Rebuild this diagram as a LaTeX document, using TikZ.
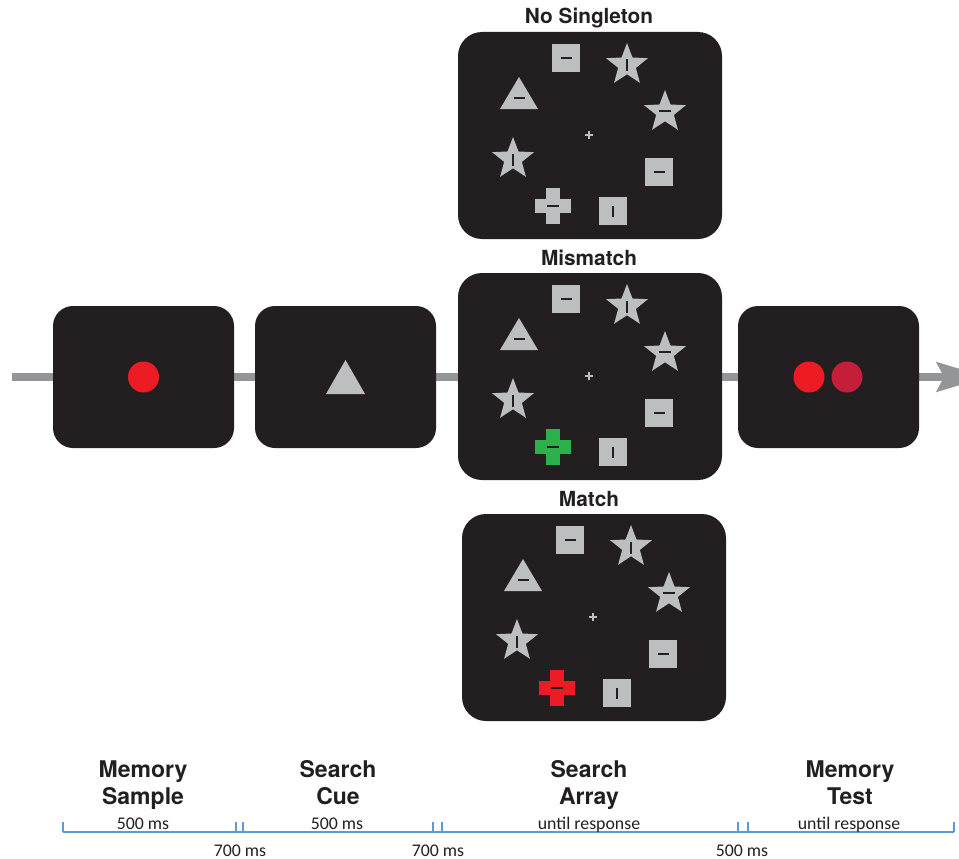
\documentclass[tikz,border=0pt]{standalone}
\usepackage{fontspec}
\setmainfont{TeX Gyre Heros}
\newfontfamily\durfont{Carlito}
\usetikzlibrary{arrows.meta}
\definecolor{boxc}{RGB}{35,31,32}
\definecolor{shp}{RGB}{188,190,192}
\definecolor{arrc}{RGB}{147,149,152}
\definecolor{redc}{RGB}{237,28,36}
\definecolor{crim}{RGB}{196,30,58}
\definecolor{grn}{RGB}{43,178,76}
\definecolor{tlc}{RGB}{91,155,213}
\definecolor{txtc}{RGB}{35,31,32}
\tikzset{
  box/.style={fill=boxc, rounded corners=20pt, inner sep=0pt, minimum width=181pt, minimum height=142pt},
  abox/.style={fill=boxc, rounded corners=24pt, inner sep=0pt, minimum width=264pt, minimum height=207pt},
  titletext/.style={font=\fontsize{20.8}{24}\selectfont\bfseries, text=txtc, anchor=base, inner sep=0pt},
  labtext/.style={font=\fontsize{23}{27}\selectfont\bfseries, text=txtc, anchor=base, inner sep=0pt},
  durtext/.style={font=\durfont\fontsize{17.8}{20}\selectfont, text=txtc, anchor=base, inner sep=0pt},
  dashmark/.style={draw=boxc, line width=2.8pt},
  tlline/.style={draw=tlc, line width=1.1pt},
  pics/starshape/.style={code={
    \fill[shp] (-90:22) -- (-54:9.3) -- (-18:22) -- (18:9.3) -- (54:22) -- (90:9.3)
      -- (126:22) -- (162:9.3) -- (198:22) -- (234:9.3) -- cycle;}},
  pics/starv/.style={code={\pic {starshape}; \draw[dashmark] (0,-5.5) -- (0,6.5);}},
  pics/starh/.style={code={\pic {starshape}; \draw[dashmark] (-6,-1) -- (6,-1);}},
  pics/sqh/.style={code={\fill[shp] (-14,-14) rectangle (14,14); \draw[dashmark] (-5.5,0) -- (5.5,0);}},
  pics/sqv/.style={code={\fill[shp] (-14,-14) rectangle (14,14); \draw[dashmark] (0,-5.5) -- (0,5.5);}},
  pics/trih/.style={code={\fill[shp] (0,-16) -- (19,16) -- (-19,16) -- cycle; \draw[dashmark] (-5.5,5) -- (5.5,5);}},
  pics/crossh/.style={code={\fill[#1] (-18,-7) rectangle (18,7); \fill[#1] (-7,-18) rectangle (7,18);
    \draw[dashmark] (-6,0) -- (6,0);}},
  pics/fixc/.style={code={\draw[shp, line width=2pt] (-4,0) -- (4,0) (0,-4) -- (0,4);}},
}
\newcommand\arrayitems[1]{%
  \pic at (108,26) {sqh};
  \pic at (169,33) {starv};
  \pic at (61,61) {trih};
  \pic at (207,80) {starh};
  \pic at (131,103) {fixc};
  \pic at (55,127) {starv};
  \pic at (201,140) {sqh};
  \pic at (95,174) {crossh=#1};
  \pic at (155,179) {sqv};
}
\begin{document}
\begin{tikzpicture}[x=1pt,y=-1pt]
\useasboundingbox (0,0) rectangle (959,859);
% main arrow
\coordinate (as) at (12,377);
\coordinate (ae) at (987,377);
\draw[arrc, line width=8pt, -{Stealth[length=50pt,width=29pt,inset=7pt]}] (as) -- (ae);
% boxes
\node[box] (ms) at (143.5,377) {};
\node[box] (sc) at (345.5,377) {};
\node[box] (mt) at (828.5,377) {};
\node[abox] (ns) at (590,135.5) {};
\node[abox] (mm) at (590,376.5) {};
\node[abox] (ma) at (594,617.5) {};
% stimuli
\fill[redc] (ms.center) circle (15.5);
\fill[shp] (345.5,360) -- (365,394) -- (326,394) -- cycle;
\fill[redc] (809,377) circle (15.5);
\fill[crim] (847,377) circle (15.5);
\begin{scope}[shift={(458,32)}]\arrayitems{shp}\end{scope}
\begin{scope}[shift={(458,273)}]\arrayitems{grn}\end{scope}
\begin{scope}[shift={(462,514)}]\arrayitems{redc}\end{scope}
% titles
\node[titletext] (tns) at (589,24) {No Singleton};
\node[titletext] (tmm) at (589,265.5) {Mismatch};
\node[titletext] (tma) at (589,506.5) {Match};
% phase labels
\node[labtext] (l1a) at (143,777) {Memory};
\node[labtext] (l1b) at (143,804.5) {Sample};
\node[labtext] (l2a) at (338,777) {Search};
\node[labtext] (l2b) at (338,804.5) {Cue};
\node[labtext] (l3a) at (589,777) {Search};
\node[labtext] (l3b) at (589,804.5) {Array};
\node[labtext] (l4a) at (850,777) {Memory};
\node[labtext] (l4b) at (850,804.5) {Test};
% timeline
\coordinate (t0) at (63,832);
\coordinate (t1) at (236,832);
\coordinate (t2) at (243,832);
\coordinate (t3) at (433,832);
\coordinate (t4) at (442,832);
\coordinate (t5) at (738,832);
\coordinate (t6) at (748,832);
\coordinate (t7) at (954,832);
\draw[tlline] (t0) -- (t7);
\foreach \t in {t0,t1,t2,t3,t4,t5,t6,t7}{\draw[tlline] (\t) -- ++(0,-10);}
\node[durtext] (d1) at (143,829) {500 ms};
\node[durtext] (d2) at (337,829) {500 ms};
\node[durtext] (d3) at (589,829) {until response};
\node[durtext] (d4) at (849,829) {until response};
\node[durtext] (g1) at (240,856) {700 ms};
\node[durtext] (g2) at (438,856) {700 ms};
\node[durtext] (g3) at (742,856) {500 ms};
\end{tikzpicture}
\end{document}
